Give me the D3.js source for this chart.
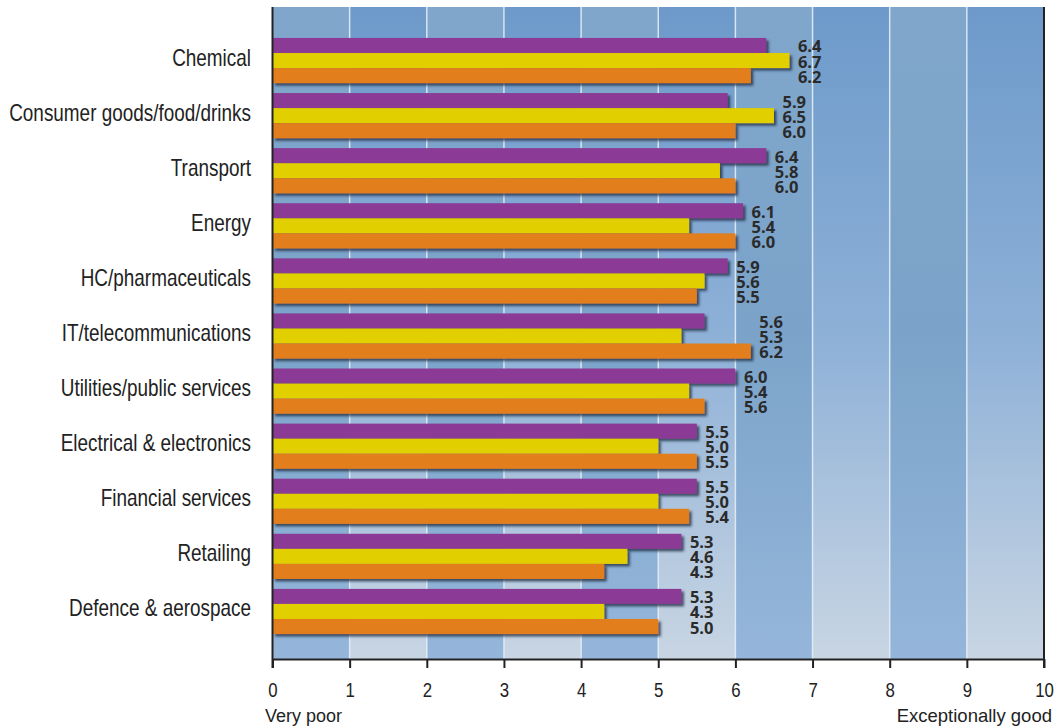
<!DOCTYPE html>
<html>
<head>
<meta charset="utf-8">
<script src="https://cdn.jsdelivr.net/npm/d3@7"></script>
<style>
  html, body { margin: 0; padding: 0; background: #ffffff; }
  svg { display: block; }
</style>
</head>
<body>
<svg id="chart" width="1061" height="728"></svg>
<script>
// ---- data ----
const categories = [
  "Chemical",
  "Consumer goods/food/drinks",
  "Transport",
  "Energy",
  "HC/pharmaceuticals",
  "IT/telecommunications",
  "Utilities/public services",
  "Electrical & electronics",
  "Financial services",
  "Retailing",
  "Defence & aerospace"
];
const purpleValues = [6.4, 5.9, 6.4, 6.1, 5.9, 5.6, 6.0, 5.5, 5.5, 5.3, 5.3];
const yellowValues = [6.7, 6.5, 5.8, 5.4, 5.6, 5.3, 5.4, 5.0, 5.0, 4.6, 4.3];
const orangeValues = [6.2, 6.0, 6.0, 6.0, 5.5, 6.2, 5.6, 5.5, 5.4, 4.3, 5.0];
const tickValues = [0, 1, 2, 3, 4, 5, 6, 7, 8, 9, 10];
const axisEndLabels = ["Very poor", "Exceptionally good"];

const seriesKeys = ["purple", "yellow", "orange"];
const seriesColors = { purple: "#8b3b96", yellow: "#e2cf00", orange: "#e27e1b" };

const rows = categories.map((c, i) => ({
  category: c,
  purple: purpleValues[i],
  yellow: yellowValues[i],
  orange: orangeValues[i]
}));

// ---- layout ----
const svg = d3.select("#chart");
const plotTop = 7, plotBottom = 659;
const x = d3.scaleLinear().domain([0, 10]).range([272.5, 1044]);
const y = d3.scaleBand().domain(categories).range([33, 639]).paddingInner(0.18).paddingOuter(0.09);
const ySub = d3.scaleBand().domain(seriesKeys).range([0, y.bandwidth()]);

const defs = svg.append("defs");
function grad(id, stops) {
  const g = defs.append("linearGradient").attr("id", id)
    .attr("gradientUnits", "userSpaceOnUse")
    .attr("x1", 0).attr("x2", 0).attr("y1", plotTop).attr("y2", plotBottom);
  stops.forEach(s => g.append("stop").attr("offset", s[0]).attr("stop-color", s[1]));
}
grad("gOdd", [["0%", "#6d9aca"], ["50%", "#8db0d7"], ["100%", "#c8d5e3"]]);
grad("gEven", [["0%", "#80a6cb"], ["50%", "#7ba3c9"], ["100%", "#95b6da"]]);

const filt = defs.append("filter").attr("id", "shadow")
  .attr("x", "-5%").attr("y", "-30%").attr("width", "115%").attr("height", "180%");
filt.append("feDropShadow").attr("dx", 2.5).attr("dy", 2.5).attr("stdDeviation", 1.3)
  .attr("flood-color", "#1c2a3c").attr("flood-opacity", 0.75);

// background columns
const cols = d3.range(0, 10);
svg.append("g").selectAll("rect").data(cols).join("rect")
  .attr("x", d => x(d))
  .attr("y", plotTop)
  .attr("width", d => x(d + 1) - x(d))
  .attr("height", plotBottom - plotTop)
  .attr("fill", d => d % 2 === 1 ? "url(#gOdd)" : "url(#gEven)");

// grid lines
svg.append("g").selectAll("line").data(tickValues.slice(1, -1)).join("line")
  .attr("x1", d => x(d)).attr("x2", d => x(d))
  .attr("y1", plotTop).attr("y2", plotBottom)
  .attr("stroke", "#e4eef8").attr("stroke-opacity", 0.85).attr("stroke-width", 1.5);

// bars
const groups = svg.append("g").selectAll("g").data(rows).join("g")
  .attr("transform", d => `translate(0,${y(d.category)})`);

seriesKeys.forEach(k => {
  groups.append("rect")
    .attr("x", x(0))
    .attr("y", ySub(k))
    .attr("width", d => x(d[k]) - x(0))
    .attr("height", ySub.bandwidth())
    .attr("fill", seriesColors[k])
    .attr("filter", "url(#shadow)");
});

// value labels
seriesKeys.forEach(k => {
  groups.append("text")
    .attr("x", d => x(Math.max(d.purple, d.yellow, d.orange)) + 8.5)
    .attr("y", ySub(k) + ySub.bandwidth() / 2 + 7)
    .attr("font-family", "'Open Sans', 'DejaVu Sans', sans-serif")
    .attr("font-weight", 700)
    .attr("font-size", 16.5)
    .attr("fill", "#2a2a2a")
    .text(d => d[k].toFixed(1));
});

// category labels (condensed via horizontal scale)
svg.append("g").selectAll("text").data(categories).join("text")
  .attr("transform", d => `translate(${x(0) - 21.5},${y(d) + y.bandwidth() / 2 + 5}) scale(0.823,1)`)
  .attr("text-anchor", "end")
  .attr("font-family", "'Liberation Sans', Arial, sans-serif")
  .attr("font-size", 23)
  .attr("fill", "#222")
  .text(d => d);

// axes
const axisG = svg.append("g").attr("transform", `translate(0,${plotBottom})`);
const axis = d3.axisBottom(x).tickValues(tickValues).tickFormat(d3.format("d")).tickSize(9).tickSizeOuter(0);
axisG.call(axis);
axisG.select(".domain").attr("stroke", "#222").attr("stroke-width", 2);
axisG.selectAll(".tick line").attr("stroke", "#222").attr("stroke-width", 2);
axisG.selectAll(".tick text")
  .attr("font-family", "'Liberation Sans', Arial, sans-serif")
  .attr("font-size", 21)
  .attr("fill", "#222")
  .attr("y", 0)
  .attr("dy", 0)
  .attr("transform", "translate(0,38) scale(0.8,1)");

// left & right frame lines
svg.append("line").attr("x1", x(0)).attr("x2", x(0)).attr("y1", plotTop).attr("y2", plotBottom + 9)
  .attr("stroke", "#222").attr("stroke-width", 2);
svg.append("line").attr("x1", x(10)).attr("x2", x(10)).attr("y1", plotTop).attr("y2", plotBottom + 9)
  .attr("stroke", "#222").attr("stroke-width", 2);

// end labels
svg.append("text").attr("x", 265).attr("y", 722)
  .attr("font-family", "'Liberation Sans', Arial, sans-serif").attr("font-size", 18)
  .attr("fill", "#222").text(axisEndLabels[0]);
svg.append("text").attr("x", 1052).attr("y", 722).attr("text-anchor", "end")
  .attr("font-family", "'Liberation Sans', Arial, sans-serif").attr("font-size", 18.5)
  .attr("fill", "#222").text(axisEndLabels[1]);
</script>
</body>
</html>
